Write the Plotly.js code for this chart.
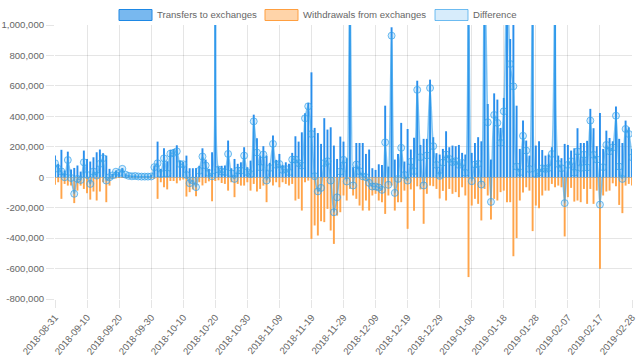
<!DOCTYPE html>
<html><head><meta charset="utf-8">
<script src="https://cdn.plot.ly/plotly-3.0.1.min.js"></script>
<style>html,body{margin:0;padding:0;background:#fff}#chart{width:640px;height:361px}</style>
</head><body><div id="chart"></div>
<script>
const seriesNames = ['Transfers to exchanges', 'Withdrawals from exchanges', 'Difference'];
const firstDate = '2018-08-31';
const lastDate = '2019-02-28';
const missingDate = '2019-02-23';
const xTickLabels = ['2018-08-31','2018-09-10','2018-09-20','2018-09-30','2018-10-10','2018-10-20','2018-10-30','2018-11-09','2018-11-19','2018-11-29','2018-12-09','2018-12-19','2018-12-29','2019-01-08','2019-01-18','2019-01-28','2019-02-07','2019-02-17','2019-02-28'];
const yTickValues = [-800000,-600000,-400000,-200000,0,200000,400000,600000,800000,1000000];
const yTickLabels = ['-800,000','-600,000','-400,000','-200,000','0','200,000','400,000','600,000','800,000','1,000,000'];

const transfers = [
142000,88000,180000,44000,168000,50000,61000,77000,37000,175000,
120000,103000,131000,164000,182000,158000,142000,55000,22000,44000,
33000,60000,20000,12000,8000,10000,6000,5000,5000,6000,
15000,77000,234000,55000,190000,105000,180000,185000,210000,109000,
100000,142000,59000,59000,60000,75000,190000,116000,55000,164000,
1350000,70000,75000,77000,241000,59000,120000,88000,98000,197000,
66000,109000,411000,256000,142000,204000,142000,94000,274000,114000,
153000,81000,98000,88000,160000,269000,234000,295000,420000,488000,
689000,324000,290000,219000,388000,313000,328000,208000,120000,267000,
234000,125000,1400000,66000,225000,225000,225000,153000,182000,59000,
48000,85000,81000,470000,70000,985000,116000,153000,357000,103000,
317000,182000,260000,634000,212000,252000,252000,641000,263000,158000,
149000,186000,302000,197000,208000,204000,212000,160000,149000,1800000,
160000,225000,263000,236000,1500000,481000,116000,551000,510000,324000,
521000,1600000,908000,1116000,470000,186000,372000,241000,142000,1500000,
208000,236000,179000,142000,149000,197000,1500000,142000,125000,219000,
212000,175000,190000,322000,225000,225000,239000,449000,322000,204000,
422000,186000,306000,258000,236000,464000,252000,225000,372000,328000,186000];

const withdrawals = [
-50000,-33000,-142000,-44000,-55000,-55000,-170000,-88000,-55000,-77000,
-105000,-147000,-94000,-153000,-94000,-33000,-164000,-55000,-10000,-8000,
-5000,-5000,-3000,-3000,-2000,-2000,-1000,-1000,-1000,-2000,
-10000,-11000,-142000,-33000,-66000,-80000,-25000,-25000,-40000,-22000,
-15000,-127000,-98000,-80000,-125000,-33000,-54000,-39000,-27000,-158000,
-25000,-20000,-38000,-44000,-88000,-33000,-131000,-44000,-55000,-55000,
-33000,-88000,-44000,-94000,-77000,-55000,-164000,-33000,-55000,-33000,
-66000,-33000,-44000,-55000,-44000,-153000,-142000,-219000,-33000,-22000,
-405000,-317000,-383000,-289000,-295000,-208000,-350000,-438000,-252000,-230000,
-120000,-153000,-77000,-120000,-142000,-186000,-219000,-153000,-219000,-120000,
-109000,-153000,-164000,-241000,-120000,-55000,-219000,-164000,-164000,-88000,
-339000,-80000,-220000,-60000,-80000,-306000,-109000,-55000,-59000,-77000,
-140000,-90000,-153000,-77000,-109000,-98000,-131000,-66000,-120000,-656000,
-186000,-142000,-175000,-284000,-77000,-120000,-278000,-142000,-153000,-98000,
-88000,-164000,-164000,-519000,-400000,-153000,-100000,-66000,-88000,-354000,
-186000,-204000,-120000,-88000,-88000,-44000,-66000,-55000,-66000,-389000,
-131000,-70000,-160000,-153000,-164000,-77000,-175000,-77000,-175000,-88000,
-602000,-120000,-94000,-88000,-40000,-60000,-182000,-236000,-55000,-44000,-55000];

// daily categories (one day absent in the source data between 02-17 and 02-28)
const dates = [];
{
  const d = new Date(firstDate + 'T00:00:00Z');
  for (;;) {
    const s = d.toISOString().slice(0, 10);
    if (s !== missingDate) dates.push(s);
    if (s === lastDate) break;
    d.setUTCDate(d.getUTCDate() + 1);
  }
}
// Difference = transfers to exchanges - withdrawals from exchanges
const difference = transfers.map((v, i) => v + withdrawals[i]);

const FONT = 'Liberation Sans, Arial, Helvetica, sans-serif';
const FS = 9.6;
const GRID = 'rgba(0,0,0,0.1)';
const BLUE = 'rgb(30,136,229)';
const ORANGE = 'rgb(255,159,64)';

const traces = [
  {type: 'bar', name: seriesNames[1], x: dates, y: withdrawals, width: 0.6,
   marker: {color: 'rgba(255,159,64,0.95)', line: {width: 0}}},
  {type: 'bar', name: seriesNames[0], x: dates, y: transfers, width: 0.6,
   marker: {color: 'rgba(30,136,235,0.95)', line: {width: 0}}},
  {type: 'scatter', mode: 'lines+markers', name: seriesNames[2], x: dates, y: difference,
   line: {color: 'rgba(54,162,235,0.6)', width: 1.5, shape: 'spline', smoothing: 0.7},
   marker: {symbol: 'circle', size: 7, color: 'rgba(54,162,235,0.2)',
            line: {color: 'rgba(54,162,235,0.7)', width: 1}},
   fill: 'tozeroy', fillcolor: 'rgba(54,162,235,0.2)'}
];

// plot area in pixels
const PL = 55, PR = 632, PT = 25, PB = 299;
const px = x => (x - PL) / (PR - PL);
const py = y => (PB - y) / (PB - PT);

const legendItems = [
  {name: seriesNames[0], x0: 119, fill: 'rgba(30,136,229,0.6)', line: BLUE},
  {name: seriesNames[1], x0: 265, fill: 'rgba(255,159,64,0.45)', line: ORANGE},
  {name: seriesNames[2], x0: 435, fill: 'rgba(54,162,235,0.2)', line: 'rgba(54,162,235,0.7)'}
];
const shapes = legendItems.map(it => ({
  type: 'rect', xref: 'paper', yref: 'paper',
  x0: px(it.x0), x1: px(it.x0 + 33), y0: py(20.5), y1: py(9.5),
  fillcolor: it.fill, line: {color: it.line, width: 1}
}));
const annotations = legendItems.map(it => ({
  xref: 'paper', yref: 'paper', x: px(it.x0 + 36), y: py(15),
  xanchor: 'left', yanchor: 'middle', showarrow: false, text: it.name,
  font: {family: FONT, size: FS, color: '#666'}
}));

const layout = {
  width: 640, height: 361,
  margin: {l: PL, r: 640 - PR, t: PT, b: 361 - PB, pad: 0},
  paper_bgcolor: '#fff', plot_bgcolor: '#fff',
  showlegend: false, barmode: 'overlay', hovermode: false,
  font: {family: FONT, size: FS, color: '#666'},
  xaxis: {type: 'category', range: [0, dates.length - 1], tickmode: 'array',
          tickvals: xTickLabels, ticktext: xTickLabels, tickangle: -50,
          showgrid: true, gridcolor: GRID, gridwidth: 1, zeroline: false, showline: false,
          ticks: 'outside', ticklen: 8, tickcolor: GRID, tickwidth: 1,
          tickfont: {family: FONT, size: FS, color: '#666'}, automargin: false},
  yaxis: {range: [-800000, 1000000], tickmode: 'array', tickvals: yTickValues, ticktext: yTickLabels,
          showgrid: true, gridcolor: GRID, gridwidth: 1, zeroline: true,
          zerolinecolor: 'rgba(0,0,0,0.25)', zerolinewidth: 1, showline: false,
          ticks: 'outside', ticklen: 8, tickcolor: GRID, tickwidth: 1,
          tickfont: {family: FONT, size: FS, color: '#666'}, automargin: false},
  shapes: shapes, annotations: annotations
};

Plotly.newPlot('chart', traces, layout, {staticPlot: true, displayModeBar: false});
</script>
</body></html>
